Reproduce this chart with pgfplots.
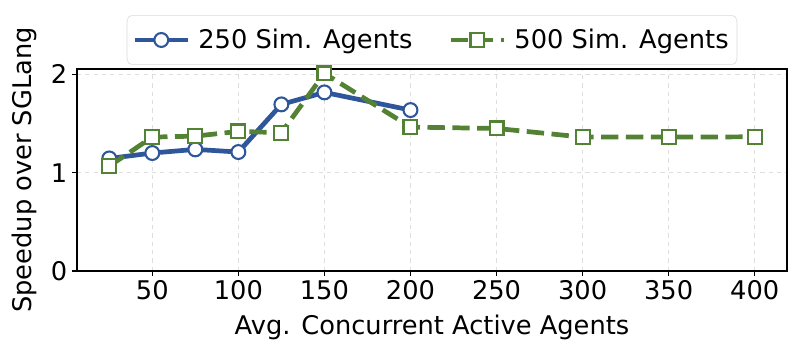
\documentclass[border=0pt]{standalone}
\usepackage{fontspec}
\setmainfont{DejaVu Sans}
\usepackage{pgfplots}
\pgfplotsset{compat=1.18}
\definecolor{cblue}{HTML}{2F559A}
\definecolor{cgreen}{HTML}{548235}
\newcommand{\bigfont}{\fontsize{18.5}{22}\selectfont}

\begin{document}
\begin{tikzpicture}
  \begin{axis}[
      name=ax,
      scale only axis,
      width=511.2pt,
      height=145.4pt,
      xmin=6.25, xmax=418.75,
      ymin=0, ymax=2.055,
      xtick={50,100,...,400},
      ytick={0,1,2},
      tick align=outside,
      tick pos=left,
      major tick length=3.5pt,
      axis line style={black, line width=0.8pt},
      tick style={black, line width=0.8pt},
      grid=major,
      major grid style={dashed, black!13, line width=0.6pt},
      /pgf/number format/assume math mode=true,
      tick label style={font=\bigfont},
      label style={font=\bigfont},
      xlabel={Avg. Concurrent Active Agents},
      ylabel={Speedup over SGLang},
      xlabel shift=4pt,
      ylabel shift=3pt,
      legend columns=2,
      legend style={
        at={(0.5,1.02)}, anchor=south,
        font=\bigfont,
        draw=black!15, rounded corners=4pt,
        inner xsep=4pt, inner ysep=8pt,
        /tikz/every odd column/.append style={column sep=4pt},
        /tikz/every even column/.append style={column sep=24pt},
      },
      legend cell align=left,
      legend image code/.code={
        \draw[mark repeat=2, mark phase=2, #1]
          plot coordinates {(0pt,0pt) (19pt,0pt) (38pt,0pt)};
      },
    ]

    % 250 simulated agents
    \addplot[cblue, line width=3.4pt, mark=*, mark size=5pt,
             mark options={solid, fill=white, line width=1.5pt}]
      coordinates {
        (25,1.145) (50,1.20) (75,1.237) (100,1.21)
        (125,1.695) (150,1.817) (200,1.637)
      };

    % 500 simulated agents
    \addplot[cgreen, line width=3.4pt, dash pattern=on 12.5pt off 5.4pt,
             mark=square*, mark size=5pt,
             mark options={solid, fill=white, line width=1.5pt}]
      coordinates {
        (25,1.067) (50,1.362) (75,1.372) (100,1.42)
        (125,1.407) (150,2.01) (200,1.464) (250,1.45)
        (300,1.362) (350,1.362) (400,1.365)
      };

    \legend{250 Sim. Agents, 500 Sim. Agents}
  \end{axis}
  \path ([xshift=-55.44pt,yshift=-59.76pt]ax.south west)
    rectangle ([xshift=7.2pt,yshift=49.68pt]ax.north east);
\end{tikzpicture}
\end{document}
